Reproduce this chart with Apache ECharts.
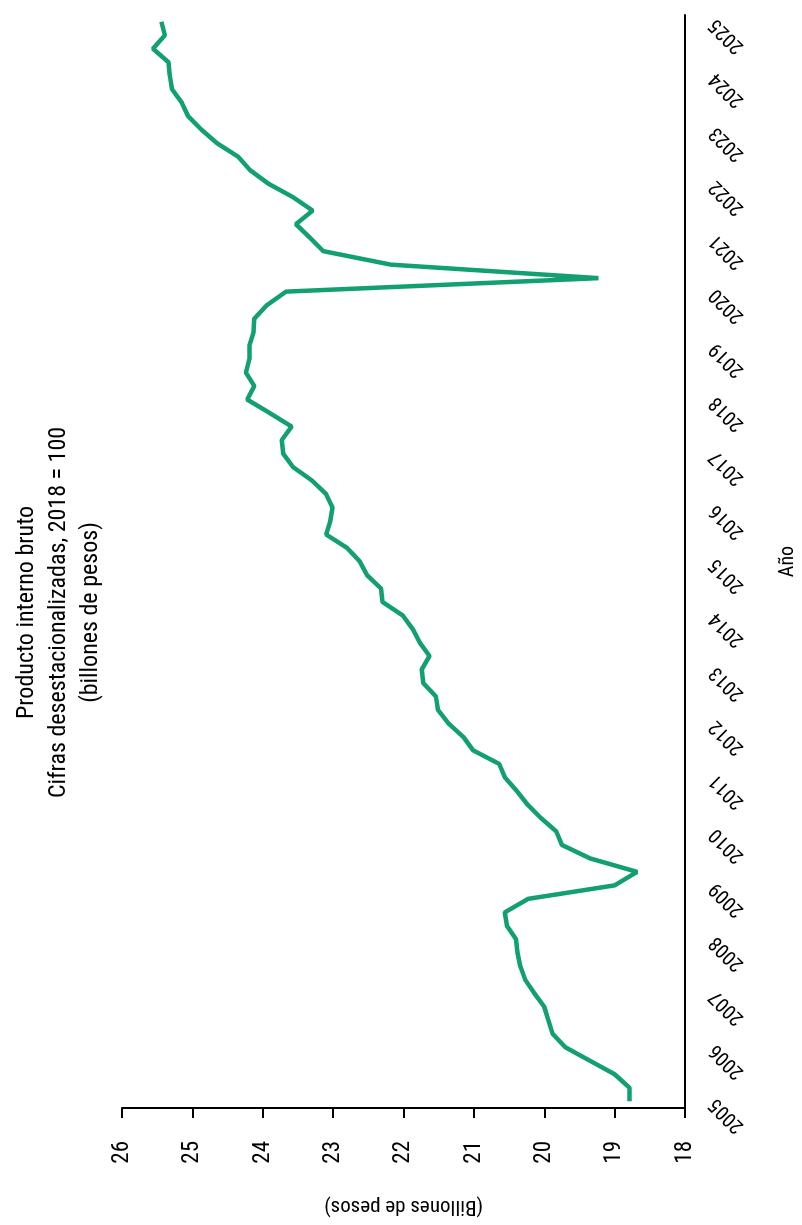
<!DOCTYPE html>
<html><head><meta charset="utf-8">
<script src="https://cdn.jsdelivr.net/npm/echarts@6/dist/echarts.min.js"></script>
<style>
html,body{margin:0;padding:0;width:802px;height:1225px;overflow:hidden;background:#fff}
#c{position:absolute;left:0;top:0;width:1225px;height:802px;transform-origin:0 0;transform:translate(0,1225px) rotate(-90deg);}
</style></head><body><div id="c"></div>
<script>
const years = [2005,2006,2007,2008,2009,2010,2011,2012,2013,2014,2015,2016,2017,2018,2019,2020,2021,2022,2023,2024,2025];
const quarters = ['T1','T2','T3','T4'];
const pib = [18.79,18.79,19.00,19.35,19.70,19.88,19.94,20.00,20.14,20.27,20.34,20.38,20.40,20.53,20.56,20.23,
  19.00,18.68,19.35,19.75,19.83,20.05,20.24,20.39,20.56,20.64,21.01,21.15,21.36,21.51,21.54,21.72,
  21.74,21.63,21.77,21.87,22.01,22.30,22.32,22.52,22.62,22.80,23.10,23.04,23.01,23.10,23.30,23.57,
  23.71,23.73,23.59,23.90,24.22,24.12,24.24,24.19,24.19,24.13,24.12,23.94,23.67,19.23,22.18,23.14,
  23.33,23.53,23.29,23.57,23.92,24.18,24.35,24.65,24.87,25.06,25.15,25.29,25.32,25.34,25.56,25.39,25.44];
const categories = [];
years.forEach(y => quarters.forEach(q => categories.push(y + q)));
categories.length = pib.length;
const titleLines = ['Producto interno bruto','Cifras desestacionalizadas, 2018 = 100','(billones de pesos)'];
const FONT = "'Roboto Condensed','Liberation Sans Narrow','DejaVu Sans Condensed','Arial Narrow',sans-serif";

const chart = echarts.init(document.getElementById('c'), null, {renderer:'canvas'});
chart.setOption({
  animation:false,
  backgroundColor:'#fff',
  title:{text:titleLines.join('\n'), left:'center', top:6,
    textStyle:{fontFamily:FONT, fontSize:24, fontWeight:'normal', lineHeight:32, color:'#000'}},
  grid:{left:117, right:15, top:122, bottom:117, containLabel:false, outerBoundsMode:'none'},
  xAxis:{type:'category', data:categories, boundaryGap:true,
    axisLine:{lineStyle:{color:'#000', width:2}},
    axisTick:{show:false},
    axisLabel:{rotate:45, interval:(i)=>i%4===0, formatter:(v)=>v.slice(0,4), fontFamily:FONT, fontSize:20, margin:28, color:'#000'},
    name:'Año', nameLocation:'middle', nameGap:93,
    nameTextStyle:{fontFamily:FONT, fontSize:20, color:'#000'}},
  yAxis:{type:'value', min:18, max:26, interval:1,
    axisLine:{show:true, lineStyle:{color:'#000', width:2}},
    axisTick:{show:true, length:10, lineStyle:{color:'#000', width:2}},
    splitLine:{show:false},
    axisLabel:{fontFamily:FONT, fontSize:23, margin:33, color:'#000'},
    name:'(Billones de pesos)', nameLocation:'middle', nameRotate:90, nameGap:88,
    nameTextStyle:{fontFamily:FONT, fontSize:21, color:'#000'}},
  series:[{type:'line', data:pib, symbol:'none', smooth:false,
    lineStyle:{color:'#13a070', width:4.5}}]
});
</script></body></html>
